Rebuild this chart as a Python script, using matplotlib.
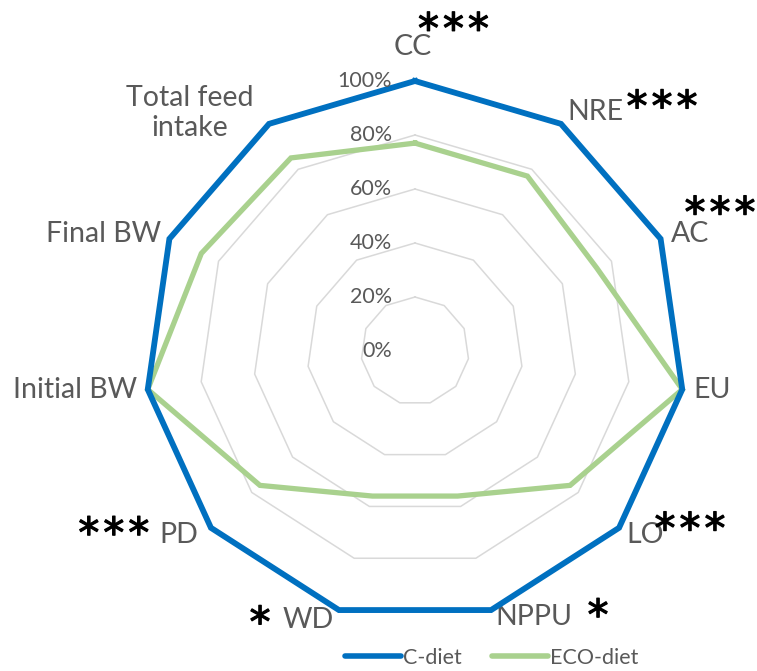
import numpy as np
import matplotlib
matplotlib.use("Agg")
import matplotlib.pyplot as plt
import matplotlib.patheffects as pe
from matplotlib.lines import Line2D

plt.rcParams['font.family'] = ['Lato', 'DejaVu Sans']

categories = ["CC", "NRE", "AC", "EU", "LO", "NPPU", "WD", "PD",
              "Initial BW", "Final BW", "Total feed\nintake"]
c_diet = [100, 100, 100, 100, 100, 100, 100, 100, 100, 100, 100]
eco_diet = [77, 77, 74, 100, 76, 56, 56, 76, 100, 87, 85]
significance = ["***", "***", "***", "", "***", "*", "*", "***", "", "", ""]
ring_values = [0, 20, 40, 60, 80, 100]
ring_labels = ["0%", "20%", "40%", "60%", "80%", "100%"]

# label placement (angle in degrees clockwise from top, radius as fraction)
label_pos = [(-0.4, 1.126), (37.1, 1.11), (67.0, 1.107), (97.5, 1.109), (128.7, 1.091),
             (155.9, 1.079), (201.7, 1.072), (232.1, 1.107), (263.5, 1.267),
             (290.6, 1.234), (316.6, 1.213)]
star_pos = [(6.6, 1.240), (44.1, 1.315), (64.0, 1.257), None, (121.3, 1.192),
            (144.2, 1.159), (210.7, 1.124), (240.3, 1.284), None, None, None]

W, H = 757, 671
fig = plt.figure(figsize=(W / 100, H / 100), dpi=100)
cx, cy, R = 415, 351, 270
ax = fig.add_axes([(cx - R) / W, (H - cy - R) / H, 2 * R / W, 2 * R / H], projection='polar')
ax.set_theta_zero_location('N')
ax.set_theta_direction(-1)
ax.set_ylim(0, 100)
ax.grid(False)
ax.set_xticks([])
ax.set_yticks([])
ax.spines['polar'].set_visible(False)
ax.patch.set_alpha(0)

n = len(categories)
theta = np.linspace(0, 2 * np.pi, n, endpoint=False)
theta_c = np.append(theta, theta[0])

for v in ring_values[1:]:
    ax.plot(theta_c, [v] * (n + 1), color='#D9D9D9', lw=1.1, zorder=1, clip_on=False)

ax.plot(theta_c, eco_diet + eco_diet[:1], color='#A9D18E', lw=3.8, zorder=3,
        clip_on=False, solid_joinstyle='miter')
ax.plot(theta_c, c_diet + c_diet[:1], color='#0070C0', lw=4.2, zorder=4,
        clip_on=False, solid_joinstyle='miter')

for v, lab in zip(ring_values, ring_labels):
    ax.annotate(lab, xy=(0, v), xytext=(-16.5, 0), textcoords='offset points',
                ha='right', va='center', fontsize=15.5, color='#595959', zorder=5,
                annotation_clip=False)

for lab, (ang, r) in zip(categories, label_pos):
    ax.text(np.deg2rad(ang), r * 100, lab, ha='center', va='center', fontsize=20.5,
            color='#595959', linespacing=1.2)

for s, p in zip(significance, star_pos):
    if s and p:
        ax.annotate("\u200a".join(s), xy=(np.deg2rad(p[0]), p[1] * 100), xytext=(0, -17.5),
                    textcoords='offset points', ha='center', va='baseline',
                    fontsize=30, color='black', family=['DejaVu Sans'],
                    annotation_clip=False,
                    path_effects=[pe.withStroke(linewidth=0.9, foreground='black')])

handles = [Line2D([], [], color='#0070C0', lw=4, solid_capstyle='round'),
           Line2D([], [], color='#A9D18E', lw=4, solid_capstyle='round')]
fig.legend(handles, ["C-diet", "ECO-diet"], loc='center', bbox_to_anchor=(492 / W, 13 / H),
           ncol=2, frameon=False, fontsize=15.5, handlelength=2.6, handletextpad=0.1,
           columnspacing=1.4, labelcolor='#595959')

fig.savefig('out.png', dpi=100)
